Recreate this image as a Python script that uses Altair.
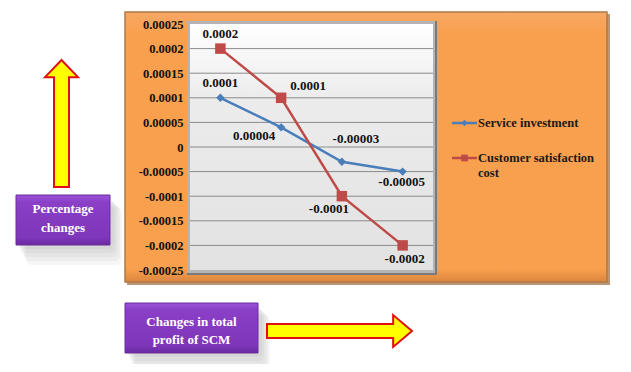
import altair as alt
import pandas as pd

# ---- data ----
points = ["1", "2", "3", "4"]
service_investment = [0.0001, 0.00004, -0.00003, -0.00005]
customer_satisfaction_cost = [0.0002, 0.0001, -0.0001, -0.0002]
service_labels = ["0.0001", "0.00004", "-0.00003", "-0.00005"]
customer_labels = ["0.0002", "0.0001", "-0.0001", "-0.0002"]
series_names = ["Service investment", "Customer satisfaction cost"]
y_ticks = [0.00025, 0.0002, 0.00015, 0.0001, 0.00005, 0, -0.00005, -0.0001, -0.00015, -0.0002, -0.00025]

rows = []
for p, v, l in zip(points, service_investment, service_labels):
    rows.append({"point": p, "value": v, "label": l, "series": series_names[0]})
for p, v, l in zip(points, customer_satisfaction_cost, customer_labels):
    rows.append({"point": p, "value": v, "label": l, "series": series_names[1]})
df = pd.DataFrame(rows)
grid_df = pd.DataFrame({"value": y_ticks[1:-1]})

# ---- layout (page pixels) ----
OX, OY = 190, 24          # plot origin on page
W, H = 243, 246
def px(x): return x - OX
def py(y): return y - OY

BLUE = "#4A7EBB"
RED = "#BE4B48"
SERIF = "Liberation Serif"
one = alt.Data(values=[{}])

yscale = alt.Scale(domain=[-0.00025, 0.00025], nice=False, zero=False)
yaxis = alt.Axis(values=y_ticks, title=None, domain=False, ticks=False, grid=False,
                 labelFont=SERIF, labelFontWeight="bold", labelFontSize=12.5,
                 labelColor="#111111", labelPadding=7, zindex=2,
                 labelExpr="replace(format(datum.value, '~f'), '\u2212', '-')")
xs = alt.X("point:N", scale=alt.Scale(type="point", padding=0.5), axis=None)
ys = alt.Y("value:Q", scale=yscale, axis=yaxis)

def rect(x1, y1, x2, y2, **kw):
    return alt.Chart(one).mark_rect(**kw).encode(
        x=alt.value(px(x1)), x2=alt.value(px(x2)),
        y=alt.value(py(y1)), y2=alt.value(py(y2)))

def text(x, y, lines, **kw):
    return alt.Chart(one).mark_text(text=lines, **kw).encode(
        x=alt.value(px(x)), y=alt.value(py(y)))

# orange background box
orange_shadow = rect(127, 14, 610, 285, color="#9a6a3c", opacity=0.7)
orange = rect(125, 12, 607, 282,
              color=alt.Gradient(gradient="linear", x1=0, y1=0, x2=0, y2=1,
                                 stops=[alt.GradientStop(offset=0, color="#F7A866"),
                                        alt.GradientStop(offset=0.08, color="#F9A04E"),
                                        alt.GradientStop(offset=0.95, color="#F9A04E"),
                                        alt.GradientStop(offset=1, color="#D9863E")]),
              stroke="#b07a48", strokeWidth=1.5)

# plot background with bevel
plot_frame_dark = rect(187, 21, 437, 275, color="#7a7a7a")
plot_frame = rect(187, 21, 435, 273, color="#b4b4b4")
plot_bg = alt.Chart(one).mark_rect(
    color=alt.Gradient(gradient="linear", x1=0, y1=0, x2=0, y2=1,
                       stops=[alt.GradientStop(offset=0, color="#ffffff"),
                              alt.GradientStop(offset=0.3, color="#ececec"),
                              alt.GradientStop(offset=1, color="#e2e2e2")])
).encode(x=alt.value(0), x2=alt.value(W), y=alt.value(0), y2=alt.value(H))

grid = alt.Chart(grid_df).mark_rule(color="#8a8a8a", strokeWidth=1).encode(
    y=ys, x=alt.value(0), x2=alt.value(W))

lines = alt.Chart(df).mark_line(strokeWidth=2.5).encode(
    x=xs, y=ys,
    color=alt.Color("series:N", scale=alt.Scale(domain=series_names, range=[BLUE, RED]), legend=None))
marks = alt.Chart(df).mark_point(filled=True, opacity=1).encode(
    x=xs, y=ys,
    color=alt.Color("series:N", scale=alt.Scale(domain=series_names, range=[BLUE, RED]), legend=None),
    shape=alt.Shape("series:N", scale=alt.Scale(domain=series_names, range=["diamond", "square"]), legend=None),
    size=alt.Size("series:N", scale=alt.Scale(domain=series_names, range=[70, 110]), legend=None))

# data label offsets (dx, dy) per series/point
offsets = {
    (series_names[0], "1"): (0, -15), (series_names[0], "2"): (-27, 9),
    (series_names[0], "3"): (14, -23), (series_names[0], "4"): (-1, 10),
    (series_names[1], "1"): (0, -15), (series_names[1], "2"): (27, -12),
    (series_names[1], "3"): (-13, 13), (series_names[1], "4"): (2, 14),
}
label_layers = []
for (s, p), (dx, dy) in offsets.items():
    label_layers.append(
        alt.Chart(df).transform_filter(
            (alt.datum.series == s) & (alt.datum.point == p)
        ).mark_text(font=SERIF, fontWeight="bold", fontSize=13, color="#111111",
                    dx=dx, dy=dy).encode(x=xs, y=ys, text="label:N"))

# legend (drawn)
def legend_entry(y, color, shape, size):
    ln = alt.Chart(one).mark_rule(color=color, strokeWidth=2.5).encode(
        x=alt.value(px(452)), x2=alt.value(px(477)), y=alt.value(py(y)))
    pt = alt.Chart(one).mark_point(filled=True, opacity=1, color=color, shape=shape, size=size).encode(
        x=alt.value(px(464.5)), y=alt.value(py(y)))
    return [ln, pt]

legend = legend_entry(123, BLUE, "diamond", 40) + legend_entry(158, RED, "square", 45)
legend_txt1 = text(478, 123, "Service investment", font=SERIF, fontWeight="bold", fontSize=12.5,
                   color="#1a1a1a", align="left", baseline="middle")
legend_txt2 = text(478, 158, ["Customer satisfaction", "cost"], font=SERIF, fontWeight="bold",
                   fontSize=12.5, color="#1a1a1a", align="left", baseline="middle", lineHeight=15)

# purple boxes
def purple_box(x1, y1, x2, y2):
    shadows = [rect(x1 + 2 + i, y1 + 4 + i, x2 + 4 + i, y2 + 4 + 2 * i, color="#808080",
                    opacity=0.07, cornerRadius=6) for i in range(0, 10, 2)]
    box = rect(x1, y1, x2, y2,
               color=alt.Gradient(gradient="linear", x1=0, y1=0, x2=0, y2=1,
                                  stops=[alt.GradientStop(offset=0, color="#9a52d6"),
                                         alt.GradientStop(offset=0.15, color="#8a3fc6"),
                                         alt.GradientStop(offset=0.85, color="#7e36ba"),
                                         alt.GradientStop(offset=1, color="#6a2aa0")]),
               stroke="#6b2c9e", strokeWidth=1)
    return shadows + [box]

box1 = purple_box(16, 195, 110, 245)
box1_txt = text(63, 209, ["Percentage", "changes"], font=SERIF, fontWeight="bold", fontSize=13,
                color="#ffffff", align="center", baseline="middle", lineHeight=19)
box2 = purple_box(125, 303, 258, 353)
box2_txt = text(191.5, 322, ["Changes in total", "profit of SCM"], font=SERIF, fontWeight="bold",
                fontSize=13, color="#ffffff", align="center", baseline="middle", lineHeight=18)

# arrows
up_path = "M0,-1 L0.26,-0.73 L0.118,-0.73 L0.118,1 L-0.118,1 L-0.118,-0.73 L-0.26,-0.73 Z"
right_path = "M1,0 L0.74,-0.22 L0.74,-0.097 L-1,-0.097 L-1,0.097 L0.74,0.097 L0.74,0.22 Z"
up_arrow = alt.Chart(one).mark_point(shape=up_path, size=127 ** 2, filled=True, fill="#FFFF00",
                                     stroke="#E01010", strokeWidth=2, opacity=1).encode(
    x=alt.value(px(61.5)), y=alt.value(py(123.5)))
right_arrow = alt.Chart(one).mark_point(shape=right_path, size=145 ** 2, filled=True, fill="#FFFF00",
                                        stroke="#E01010", strokeWidth=2, opacity=1).encode(
    x=alt.value(px(339.5)), y=alt.value(py(331)))

chart = alt.layer(
    orange_shadow, orange, plot_frame_dark, plot_frame, plot_bg, grid, lines, marks, *label_layers,
    *legend, legend_txt1, legend_txt2,
    *box1, box1_txt, *box2, box2_txt, up_arrow, right_arrow
).properties(
    width=W, height=H,
    autosize=alt.AutoSizeParams(type="none"),
    padding={"left": OX - 8, "top": OY - 8, "right": 631 - 16 - (OX - 8) - W, "bottom": 372 - 16 - (OY - 8) - H},
    background="#ffffff"
).configure_view(stroke=None)

chart.save("out.html", embed_options={"renderer": "svg", "actions": False})
